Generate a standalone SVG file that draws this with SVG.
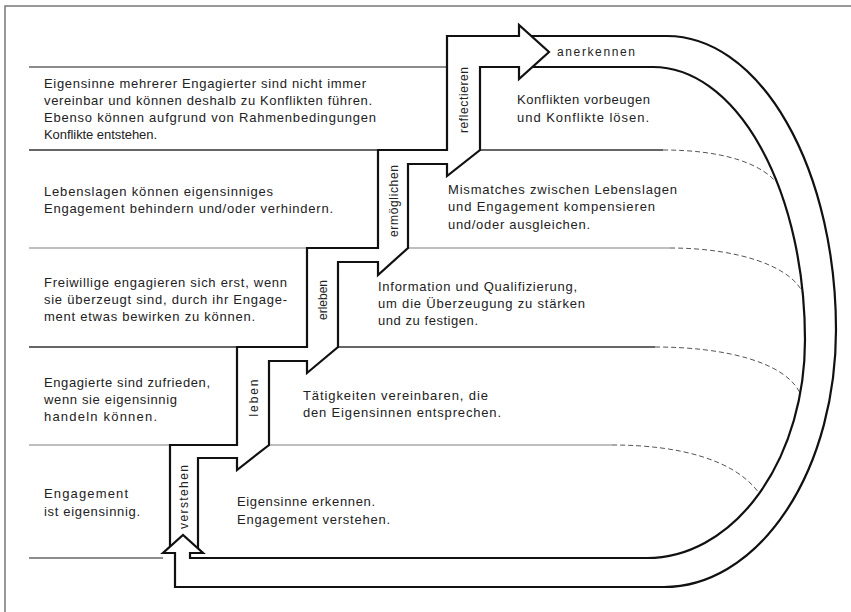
<svg xmlns="http://www.w3.org/2000/svg" width="851" height="612" viewBox="0 0 851 612">
<style>
.t{font-family:"Liberation Sans",Arial,sans-serif;font-size:13px;fill:#222}
.r{font-family:"Liberation Sans",Arial,sans-serif;font-size:12px;fill:#222}
.band{fill:none;stroke:#111;stroke-width:2.2;stroke-linejoin:miter}
.sepd{fill:none;stroke:#333;stroke-width:1.4}
.sepl{fill:none;stroke:#aaa;stroke-width:1.4}
.sepg{fill:none;stroke:#666;stroke-width:1.4}
.dash{fill:none;stroke:#555;stroke-width:1;stroke-dasharray:5 3}
.frame{fill:none;stroke:#777;stroke-width:1.5}
</style>
<rect width="851" height="612" fill="#fff"/>
<g id="frame">
<path class="frame" d="M5,612 V6 H851"/>
</g>
<g id="separators">
<path class="sepg" d="M29,67 H447"/>
<path class="sepd" d="M29,150 H378"/>
<path class="sepl" d="M29,248 H307"/>
<path class="sepd" d="M29,347 H237"/>
<path class="sepl" d="M29,445 H170"/>
<path class="sepg" d="M29,558 H163"/>
<path class="sepd" d="M480,150 H663"/>
<path class="dash" d="M663,150 C722,150 764,163 780,187"/>
<path class="sepl" d="M408,248 H670"/>
<path class="dash" d="M670,248 C735,248 790,265 803,293"/>
<path class="sepd" d="M338,347 H655"/>
<path class="dash" d="M655,347 C725,347 785,362 800,393"/>
<path class="sepl" d="M269,445 H612"/>
<path class="dash" d="M612,445 C680,445 735,460 759,493"/>
</g>
<g id="connectors">
<path id="stairs" class="band" d="M170,547 V445 H237 V347 H307 V248 H378 V150 H447 V36 H519 V25 L549,52 L519,79 V67 H480 V150 L447,176 V164 H408 V248 L378,275 V262 H338 V347 L307,373 V361 H269 V445 L237,470 V458 H198 V548"/>
<path id="loop" class="band" d="M531,36 H667 A169,294 0 0 1 836,330 A172,257 0 0 1 664,587 H175 V553 H163 L183,535 L203,553 H190 V558 H647 A158,218 0 0 0 805,340 A152,273 0 0 0 653,67 H532"/>
</g>
<g id="step-verstehen"><text class="r" transform="translate(188,497) rotate(-90)" text-anchor="middle" textLength="64">verstehen</text></g>
<g id="step-leben"><text class="r" transform="translate(258,398) rotate(-90)" text-anchor="middle" textLength="37">leben</text></g>
<g id="step-erleben"><text class="r" transform="translate(327,300) rotate(-90)" text-anchor="middle" textLength="40">erleben</text></g>
<g id="step-ermoeglichen"><text class="r" transform="translate(398,201) rotate(-90)" text-anchor="middle" textLength="72">ermöglichen</text></g>
<g id="step-reflectieren"><text class="r" transform="translate(468,100) rotate(-90)" text-anchor="middle" textLength="66">reflectieren</text></g>
<g id="step-anerkennen"><text class="r" x="557" y="56" textLength="78">anerkennen</text></g>
<g id="row1-left">
<text class="t" x="44" y="88" textLength="322">Eigensinne mehrerer Engagierter sind nicht immer</text>
<text class="t" x="44" y="105" textLength="328">vereinbar und können deshalb zu Konflikten führen.</text>
<text class="t" x="44" y="122" textLength="332">Ebenso können aufgrund von Rahmenbedingungen</text>
<text class="t" x="44" y="139" textLength="113">Konflikte entstehen.</text>
</g>
<g id="row2-left">
<text class="t" x="44" y="196" textLength="229">Lebenslagen können eigensinniges</text>
<text class="t" x="44" y="213" textLength="289">Engagement behindern und/oder verhindern.</text>
</g>
<g id="row3-left">
<text class="t" x="44" y="287" textLength="243">Freiwillige engagieren sich erst, wenn</text>
<text class="t" x="44" y="304" textLength="243">sie überzeugt sind, durch ihr Engage-</text>
<text class="t" x="44" y="321" textLength="211">ment etwas bewirken zu können.</text>
</g>
<g id="row4-left">
<text class="t" x="44" y="387" textLength="166">Engagierte sind zufrieden,</text>
<text class="t" x="44" y="404" textLength="133">wenn sie eigensinnig</text>
<text class="t" x="44" y="421" textLength="113">handeln können.</text>
</g>
<g id="row5-left">
<text class="t" x="44" y="498" textLength="84">Engagement</text>
<text class="t" x="44" y="516" textLength="96">ist eigensinnig.</text>
</g>
<g id="row1-right">
<text class="t" x="517" y="104" textLength="133">Konflikten vorbeugen</text>
<text class="t" x="517" y="122" textLength="132">und Konflikte lösen.</text>
</g>
<g id="row2-right">
<text class="t" x="448" y="194" textLength="229">Mismatches zwischen Lebenslagen</text>
<text class="t" x="448" y="211" textLength="207">und Engagement kompensieren</text>
<text class="t" x="448" y="229" textLength="142">und/oder ausgleichen.</text>
</g>
<g id="row3-right">
<text class="t" x="378" y="291" textLength="199">Information und Qualifizierung,</text>
<text class="t" x="378" y="308" textLength="207">um die Überzeugung zu stärken</text>
<text class="t" x="378" y="325" textLength="100">und zu festigen.</text>
</g>
<g id="row4-right">
<text class="t" x="303" y="400" textLength="185">Tätigkeiten vereinbaren, die</text>
<text class="t" x="303" y="417" textLength="198">den Eigensinnen entsprechen.</text>
</g>
<g id="row5-right">
<text class="t" x="237" y="506" textLength="138">Eigensinne erkennen.</text>
<text class="t" x="237" y="524" textLength="153">Engagement verstehen.</text>
</g>
</svg>
